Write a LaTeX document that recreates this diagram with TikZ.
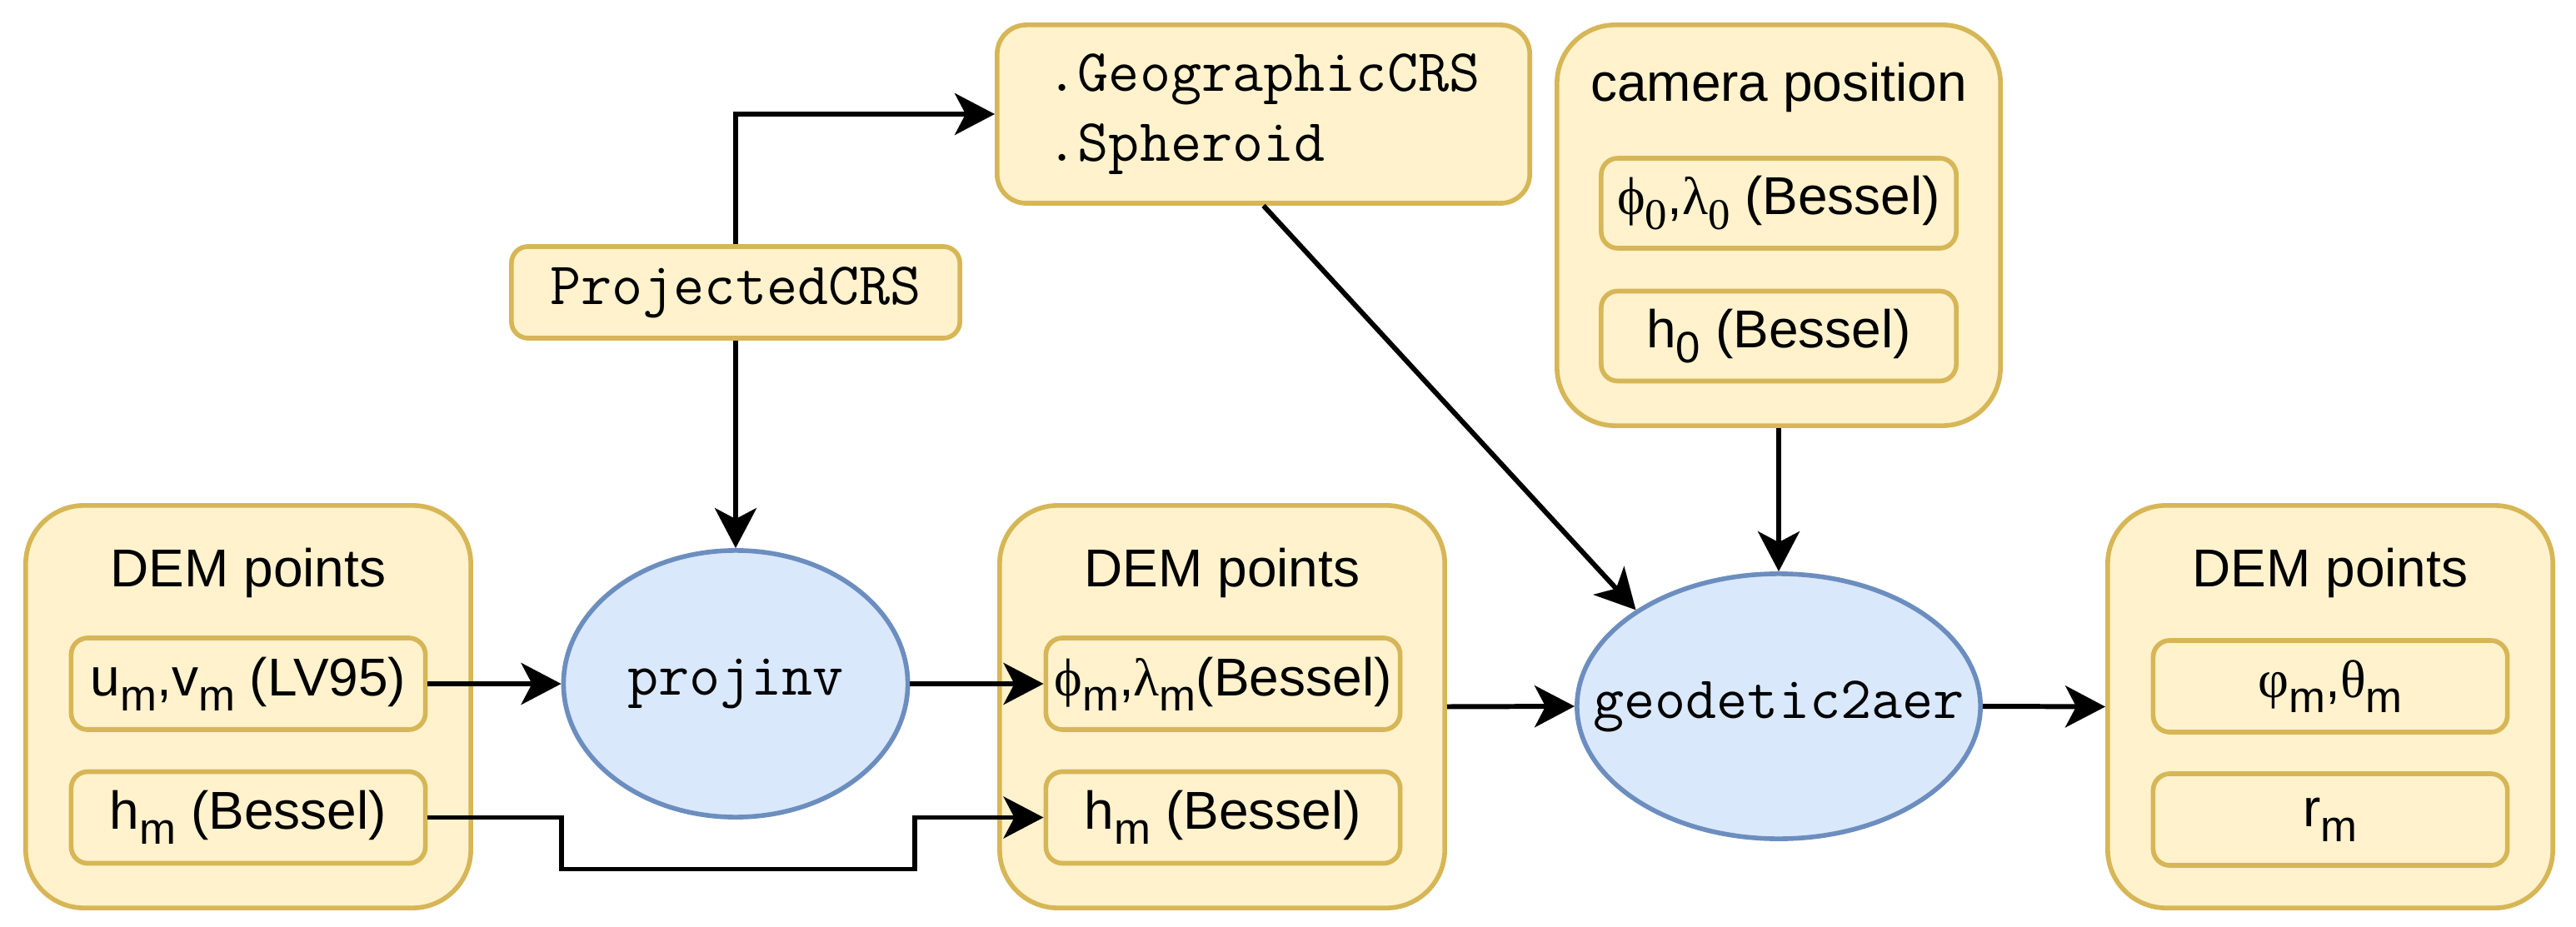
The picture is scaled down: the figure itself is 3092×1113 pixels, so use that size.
\documentclass[tikz,border=0pt]{standalone}
\usepackage{fontspec}
\setmainfont{Liberation Sans}
\newfontfamily\grkfont{Liberation Serif}
\usetikzlibrary{shapes.geometric,arrows.meta}

\definecolor{boxfill}{HTML}{FFF2CC}
\definecolor{boxline}{HTML}{D6B656}
\definecolor{opfill}{HTML}{DAE8FC}
\definecolor{opline}{HTML}{6C8EBF}

\newcommand{\subidx}[1]{\raisebox{-0.28em}{\fontsize{15}{15}\selectfont #1}}
\newcommand{\grk}[1]{{\grkfont #1}}

\tikzset{
	lbl/.style={font=\fontsize{18.2}{23.9}\selectfont, inner sep=0pt},
	codelbl/.style={font=\fontsize{20.5}{23.9}\selectfont\ttfamily, inner sep=0pt},
	groupbox/.style={draw=boxline, fill=boxfill, line width=1.6pt, rounded corners=0.7cm,
		minimum width=5.34cm, minimum height=4.83cm},
	itembox/.style={lbl, draw=boxline, fill=boxfill, line width=1.6pt, rounded corners=0.2cm,
		minimum width=4.25cm, minimum height=1.1cm},
	opnode/.style={ellipse, draw=opline, fill=opfill, line width=1.6pt, inner sep=0pt},
	flow/.style={->, line width=1.7pt},
	>={Stealth[length=0.48cm, width=0.5cm, inset=0.13cm]}
}

\begin{document}
\begin{tikzpicture}[x=0.01cm, y=-0.01cm]
	\useasboundingbox (0,0) rectangle (3092,1113);
	% Gruppen
	\node[groupbox] (demA) at (298,848.5) {};
	\node[groupbox] (demB) at (1467,848.5) {};
	\node[groupbox] (demC) at (2797,848.5) {};
	\node[groupbox, minimum width=5.32cm, minimum height=4.81cm] (cam) at (2135,270.5) {};
	\node[lbl, anchor=base] (demAtitle) at (298,704) {DEM points};
	\node[lbl, anchor=base] (demBtitle) at (1467,704) {DEM points};
	\node[lbl, anchor=base] (demCtitle) at (2797,704) {DEM points};
	\node[lbl, anchor=base] (camtitle) at (2135,122) {camera position};
	% Eintraege
	\node[itembox] (uvA) at (298,821) {u\subidx{m},v\subidx{m} (LV95)};
	\node[itembox] (hA) at (298,981.5) {h\subidx{m} (Bessel)};
	\node[itembox] (latB) at (1468,821) {\grk{ϕ}\subidx{m},\grk{λ}\subidx{m}(Bessel)};
	\node[itembox] (hB) at (1468,981.5) {h\subidx{m} (Bessel)};
	\node[itembox] (angC) at (2797,824) {\grk{φ}\subidx{m},\grk{θ}\subidx{m}};
	\node[itembox] (rC) at (2797,984) {r\subidx{m}};
	\node[itembox, minimum width=4.26cm, minimum height=1.08cm] (camlat) at (2135,244)
		{\grk{ϕ}\subidx{\grkfont 0},\grk{λ}\subidx{\grkfont 0} (Bessel)};
	\node[itembox, minimum width=4.26cm, minimum height=1.08cm] (camh) at (2135,403.5)
		{h\subidx{0} (Bessel)};
	% CRS
	\node[itembox, codelbl, minimum width=5.38cm] (pcrs) at (883,351) {ProjectedCRS};
	\node[itembox, codelbl, align=left, rounded corners=0.35cm, minimum width=6.39cm,
		minimum height=2.14cm] (gcrs) at (1516.5,137) {.GeographicCRS\\.Spheroid};
	% Funktionen
	\node[opnode, minimum width=4.13cm, minimum height=3.2cm] (pinv) at (883,821) {};
	\node[codelbl] (pinvtext) at (pinv) {projinv};
	\node[opnode, minimum width=4.84cm, minimum height=3.18cm] (geo) at (2135,848) {};
	\node[codelbl] (geotext) at (geo) {geodetic2aer};
	% Verbindungen
	\draw[flow] (pcrs.north) |- (gcrs.west);
	\draw[flow] (pcrs.south) -- (pinv.north);
	\draw[flow] (uvA.east) -- (pinv.west);
	\draw[flow] (pinv.east) -- (latB.west);
	\draw[flow] (hA.east) -- ++(161,0) -- ++(0,62) -- ++(424,0) |- (hB.west);
	\draw[flow] (demB.east) -- (geo.west);
	\draw[flow] (geo.east) -- (demC.west);
	\draw[flow] (cam.south) -- (geo.north);
	\draw[flow] (gcrs.south) -- (geo.146);
\end{tikzpicture}
\end{document}
